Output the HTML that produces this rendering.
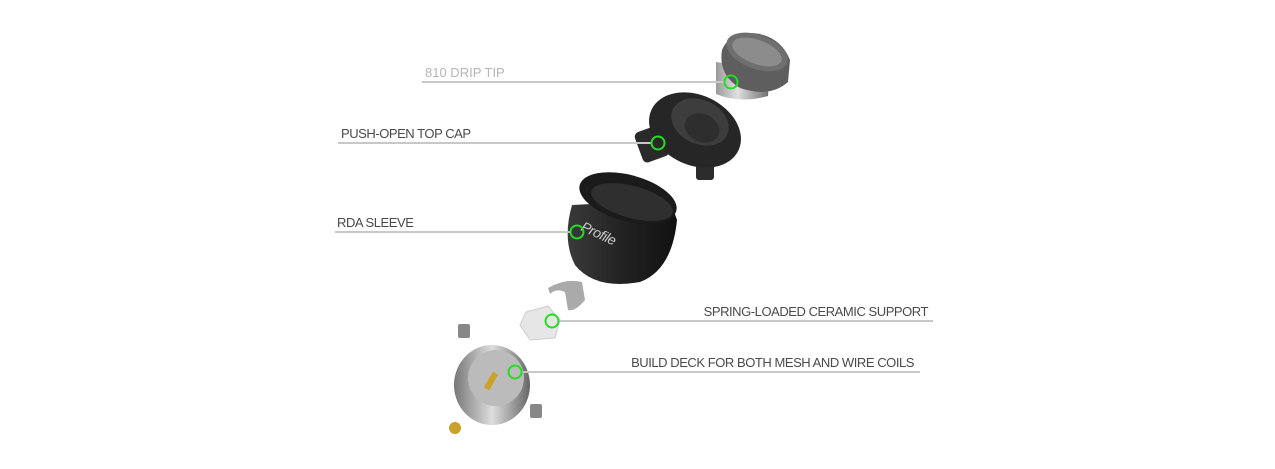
<!DOCTYPE html>
<html><head><style>
html,body{margin:0;padding:0;background:#fff;}
svg{display:block}
text{font-family:"Liberation Sans",sans-serif;font-size:13px;fill:#4a4a4a;letter-spacing:-0.45px;}
</style></head><body>
<svg width="1275" height="469" viewBox="0 0 1275 469">
<defs>
<linearGradient id="dt" x1="0" x2="1"><stop offset="0" stop-color="#9a9a9a"/><stop offset=".4" stop-color="#e0e0e0"/><stop offset="1" stop-color="#6a6a6a"/></linearGradient>
<linearGradient id="sl" x1="0" x2="1"><stop offset="0" stop-color="#3a3a3a"/><stop offset=".5" stop-color="#222"/><stop offset="1" stop-color="#111"/></linearGradient>
<linearGradient id="dk" x1="0" x2="1"><stop offset="0" stop-color="#777"/><stop offset=".5" stop-color="#ddd"/><stop offset="1" stop-color="#666"/></linearGradient>
</defs>
<!-- drip tip -->
<path d="M716 62 L716 94 Q740 104 768 96 L770 70 Z" fill="url(#dt)"/>
<path d="M722 50 Q718 75 740 88 Q770 98 788 82 L790 60 Q780 35 752 33 Q728 34 722 50Z" fill="#5e5e5e"/>
<ellipse cx="757" cy="52" rx="32" ry="17" transform="rotate(20 757 52)" fill="#6f6f6f"/>
<ellipse cx="757" cy="52" rx="26" ry="12" transform="rotate(20 757 52)" fill="#8c8c8c"/>
<!-- top cap -->
<rect x="638" y="128" width="28" height="32" rx="5" fill="#2a2a2a" transform="rotate(-20 652 144)"/>
<rect x="696" y="160" width="18" height="20" rx="3" fill="#2c2c2c"/>
<ellipse cx="695" cy="130" rx="48" ry="35" transform="rotate(25 695 130)" fill="#262626"/>
<ellipse cx="700" cy="122" rx="30" ry="22" transform="rotate(25 700 122)" fill="#3d3d3d"/>
<ellipse cx="702" cy="128" rx="18" ry="14" transform="rotate(25 702 128)" fill="#2e2e2e"/>
<!-- sleeve -->
<path d="M572 205 Q562 240 575 265 Q595 290 640 282 Q672 270 677 220 L670 200 Z" fill="url(#sl)"/>
<ellipse cx="628" cy="198" rx="50" ry="23" transform="rotate(15 628 198)" fill="#1b1b1b"/>
<ellipse cx="632" cy="202" rx="42" ry="16" transform="rotate(15 632 202)" fill="#2f2f2f"/>
<text x="580" y="230" transform="rotate(25 580 230)" style="font-size:14px;fill:#ccc;font-style:italic">Profile</text>
<!-- mesh -->
<path d="M548 288 Q565 278 582 282 L585 300 Q575 312 568 310 L565 292 Q556 288 550 294Z" fill="#aaa"/>
<!-- ceramic -->
<path d="M526 312 L548 306 L560 320 L555 338 L530 340 L520 325Z" fill="#e6e6e6" stroke="#cfcfcf"/>
<!-- deck -->
<ellipse cx="492" cy="385" rx="38" ry="40" fill="url(#dk)"/>
<ellipse cx="496" cy="378" rx="28" ry="28" fill="#bbb"/>
<rect x="488" y="372" width="6" height="18" fill="#c9a227" transform="rotate(30 491 381)"/>
<rect x="458" y="324" width="12" height="14" rx="2" fill="#888"/>
<rect x="530" y="404" width="12" height="14" rx="2" fill="#888"/>
<circle cx="455" cy="428" r="6" fill="#c8a22a"/>
<!-- lines -->
<g stroke="#c8c8c8" stroke-width="2" fill="none">
<line x1="422" y1="82" x2="725" y2="82"/>
<line x1="338" y1="143" x2="652" y2="143"/>
<line x1="335" y1="232" x2="571" y2="232"/>
<line x1="558" y1="321" x2="933" y2="321"/>
<line x1="520" y1="372" x2="920" y2="372"/>
</g>
<g stroke="#22dd22" stroke-width="2" fill="none">
<circle cx="731" cy="82" r="6.5"/>
<circle cx="658" cy="143" r="6.5"/>
<circle cx="577" cy="232" r="6.5"/>
<circle cx="552" cy="321" r="6.5"/>
<circle cx="515" cy="372" r="6.5"/>
</g>
<text x="425" y="77" style="fill:#b5b5b5;letter-spacing:0">810 DRIP TIP</text>
<text x="341" y="138">PUSH-OPEN TOP CAP</text>
<text x="337" y="227">RDA SLEEVE</text>
<text x="928" y="316" text-anchor="end">SPRING-LOADED CERAMIC SUPPORT</text>
<text x="914" y="367" text-anchor="end">BUILD DECK FOR BOTH MESH AND WIRE COILS</text>
</svg>
</body></html>
